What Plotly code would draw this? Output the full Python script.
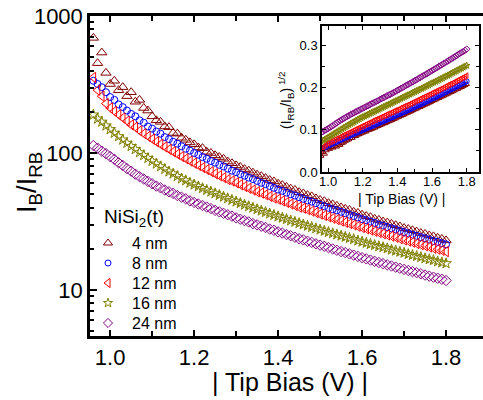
import plotly.graph_objects as go

# ---------------- data ----------------
# tip bias grid, 0.96 ... 1.80 V in 0.01 V steps
bias_V = [round(0.96 + 0.01 * i, 2) for i in range(85)]

thickness_labels = ["4 nm", "8 nm", "12 nm", "16 nm", "24 nm"]

# (I_RB / I_B)^(1/2) for each NiSi2 thickness (inset quantity)
sqrt_ratio_4nm = [
    0.0380, 0.0470, 0.0430, 0.0510, 0.0560, 0.0545, 0.0590, 0.0575, 0.0620, 0.0600,
    0.0650, 0.0640, 0.0685, 0.0700, 0.0735, 0.0760, 0.0770, 0.0800, 0.0805, 0.0845,
    0.0850, 0.0880, 0.0895, 0.0915, 0.0930, 0.0955, 0.0960, 0.0990, 0.1000, 0.1020,
    0.1035, 0.1050, 0.1075, 0.1090, 0.1110, 0.1125, 0.1145, 0.1160, 0.1180, 0.1200,
    0.1215, 0.1235, 0.1255, 0.1270, 0.1295, 0.1310, 0.1330, 0.1350, 0.1365, 0.1390,
    0.1405, 0.1425, 0.1440, 0.1465, 0.1485, 0.1500, 0.1525, 0.1540, 0.1560, 0.1580,
    0.1600, 0.1615, 0.1640, 0.1655, 0.1680, 0.1700, 0.1715, 0.1740, 0.1755, 0.1780,
    0.1795, 0.1815, 0.1835, 0.1855, 0.1880, 0.1895, 0.1915, 0.1935, 0.1960, 0.1975,
    0.2000, 0.2015, 0.2040, 0.2060, 0.2085]
sqrt_ratio_8nm = [
    0.0545, 0.0560, 0.0575, 0.0600, 0.0625, 0.0640, 0.0665, 0.0680, 0.0700, 0.0720,
    0.0735, 0.0760, 0.0775, 0.0800, 0.0815, 0.0835, 0.0850, 0.0875, 0.0890, 0.0910,
    0.0925, 0.0945, 0.0965, 0.0980, 0.1000, 0.1015, 0.1035, 0.1050, 0.1070, 0.1085,
    0.1105, 0.1120, 0.1140, 0.1160, 0.1175, 0.1195, 0.1210, 0.1230, 0.1245, 0.1265,
    0.1285, 0.1300, 0.1320, 0.1340, 0.1360, 0.1375, 0.1395, 0.1415, 0.1430, 0.1450,
    0.1470, 0.1490, 0.1505, 0.1525, 0.1545, 0.1565, 0.1585, 0.1605, 0.1620, 0.1640,
    0.1660, 0.1680, 0.1700, 0.1720, 0.1745, 0.1760, 0.1780, 0.1800, 0.1825, 0.1840,
    0.1865, 0.1885, 0.1900, 0.1925, 0.1945, 0.1965, 0.1985, 0.2005, 0.2030, 0.2050,
    0.2070, 0.2095, 0.2110, 0.2135, 0.2155]
sqrt_ratio_12nm = [
    0.0530, 0.0590, 0.0620, 0.0660, 0.0685, 0.0705, 0.0725, 0.0745, 0.0765, 0.0790,
    0.0805, 0.0830, 0.0850, 0.0870, 0.0890, 0.0910, 0.0930, 0.0950, 0.0970, 0.0990,
    0.1010, 0.1030, 0.1050, 0.1070, 0.1090, 0.1110, 0.1130, 0.1150, 0.1170, 0.1190,
    0.1210, 0.1230, 0.1250, 0.1265, 0.1285, 0.1305, 0.1325, 0.1345, 0.1365, 0.1385,
    0.1400, 0.1420, 0.1440, 0.1460, 0.1475, 0.1495, 0.1515, 0.1535, 0.1555, 0.1575,
    0.1590, 0.1610, 0.1630, 0.1650, 0.1670, 0.1690, 0.1710, 0.1730, 0.1750, 0.1770,
    0.1790, 0.1810, 0.1830, 0.1850, 0.1870, 0.1890, 0.1910, 0.1930, 0.1950, 0.1970,
    0.1990, 0.2010, 0.2030, 0.2055, 0.2075, 0.2095, 0.2115, 0.2140, 0.2160, 0.2180,
    0.2200, 0.2225, 0.2245, 0.2265, 0.2290]
sqrt_ratio_16nm = [
    0.0725, 0.0750, 0.0770, 0.0795, 0.0820, 0.0845, 0.0870, 0.0895, 0.0920, 0.0945,
    0.0970, 0.0995, 0.1020, 0.1045, 0.1070, 0.1095, 0.1120, 0.1145, 0.1170, 0.1190,
    0.1215, 0.1240, 0.1260, 0.1285, 0.1305, 0.1325, 0.1345, 0.1365, 0.1385, 0.1405,
    0.1425, 0.1445, 0.1465, 0.1485, 0.1505, 0.1525, 0.1545, 0.1565, 0.1585, 0.1605,
    0.1625, 0.1645, 0.1665, 0.1685, 0.1705, 0.1725, 0.1745, 0.1765, 0.1785, 0.1805,
    0.1825, 0.1845, 0.1865, 0.1885, 0.1905, 0.1925, 0.1945, 0.1965, 0.1985, 0.2005,
    0.2025, 0.2045, 0.2065, 0.2090, 0.2110, 0.2130, 0.2150, 0.2170, 0.2190, 0.2210,
    0.2230, 0.2255, 0.2275, 0.2295, 0.2315, 0.2340, 0.2360, 0.2380, 0.2400, 0.2425,
    0.2445, 0.2465, 0.2490, 0.2510, 0.2530]
sqrt_ratio_24nm = [
    0.0940, 0.0960, 0.0985, 0.1005, 0.1030, 0.1055, 0.1085, 0.1110, 0.1140, 0.1165,
    0.1195, 0.1220, 0.1245, 0.1270, 0.1295, 0.1320, 0.1340, 0.1365, 0.1385, 0.1405,
    0.1430, 0.1450, 0.1470, 0.1495, 0.1515, 0.1535, 0.1555, 0.1575, 0.1595, 0.1620,
    0.1640, 0.1660, 0.1680, 0.1700, 0.1725, 0.1745, 0.1765, 0.1785, 0.1810, 0.1830,
    0.1850, 0.1870, 0.1895, 0.1915, 0.1940, 0.1960, 0.1985, 0.2005, 0.2030, 0.2055,
    0.2075, 0.2100, 0.2120, 0.2145, 0.2170, 0.2190, 0.2215, 0.2240, 0.2265, 0.2290,
    0.2310, 0.2335, 0.2360, 0.2385, 0.2410, 0.2435, 0.2460, 0.2485, 0.2510, 0.2535,
    0.2560, 0.2585, 0.2610, 0.2635, 0.2660, 0.2685, 0.2710, 0.2735, 0.2760, 0.2790,
    0.2815, 0.2840, 0.2865, 0.2890, 0.2920]

series = [sqrt_ratio_4nm, sqrt_ratio_8nm, sqrt_ratio_12nm, sqrt_ratio_16nm, sqrt_ratio_24nm]

# ---------------- styling ----------------
colors = ["#800000", "#0000FF", "#FF0000", "#808000", "#800080"]
symbols = ["triangle-up-open", "circle-open", "triangle-left-open", "star-open", "diamond-open"]
main_sizes = [9, 7, 9, 8, 8]
FONT = "Liberation Sans, Arial, sans-serif"

W, H = 483, 400
ML, MR, MT, MB = 90, 0, 16, 64
PW, PH = W - ML - MR, H - MT - MB


def px2paper_x(px):
    return (px - ML) / PW


def px2paper_y(py):
    return (H - MB - py) / PH


fig = go.Figure()

for s_vals, lab, col, sym, sz in zip(series, thickness_labels, colors, symbols, main_sizes):
    ratio = [1.0 / (s * s) for s in s_vals]  # I_B / I_RB
    fig.add_trace(go.Scatter(
        x=bias_V, y=ratio, mode="markers", name=lab,
        marker=dict(symbol=sym, size=sz, color=col, line=dict(width=1, color=col)),
        xaxis="x", yaxis="y", showlegend=False))

for s_vals, lab, col, sym in zip(series, thickness_labels, colors, symbols):
    fig.add_trace(go.Scatter(
        x=bias_V, y=s_vals, mode="markers", name=lab,
        marker=dict(symbol=sym, size=5, color=col, line=dict(width=1, color=col)),
        xaxis="x2", yaxis="y2", showlegend=False))

# hand-built legend (overlay axis in pixel units)
leg_sym_x = 108
leg_text_x = 130
leg_rows_y = [243, 263, 283, 303, 323]
for lab, col, sym, sz, ly in zip(thickness_labels, colors, symbols, main_sizes, leg_rows_y):
    fig.add_trace(go.Scatter(
        x=[leg_sym_x], y=[ly], mode="markers", name=lab,
        marker=dict(symbol=sym, size=sz - 1, color=col, line=dict(width=1, color=col)),
        xaxis="x3", yaxis="y3", showlegend=False, hoverinfo="skip"))

axis_common = dict(showgrid=False, zeroline=False, showline=True, linecolor="black",
                   ticks="inside", tickcolor="black")

fig.update_layout(
    width=W, height=H,
    margin=dict(l=ML, r=MR, t=MT, b=MB, pad=0),
    paper_bgcolor="white", plot_bgcolor="white",
    font=dict(family=FONT, color="black"),
    showlegend=False,
    xaxis=dict(axis_common, domain=[0, 1], range=[0.952, 1.888], linewidth=2.5,
               mirror="ticks", tickwidth=2, ticklen=6, dtick=0.2, tick0=1.0,
               tickformat=".1f", tickfont=dict(size=22),
               minor=dict(ticks="inside", dtick=0.1, tick0=1.0, ticklen=5, tickwidth=2,
                          tickcolor="black", showgrid=False)),
    yaxis=dict(axis_common, type="log", domain=[0, 1], range=[0.664, 3.0], linewidth=2.5,
               mirror=False, tickwidth=2, ticklen=7, dtick=1, tickfont=dict(size=22),
               minor=dict(ticks="inside", ticklen=4, tickwidth=1.5, tickcolor="black",
                          showgrid=False)),
    xaxis2=dict(axis_common, anchor="y2", domain=[px2paper_x(322), px2paper_x(479)],
                range=[0.965, 1.871], linewidth=1.5, mirror="ticks", tickwidth=1.2,
                ticklen=4, dtick=0.2, tick0=1.0, tickformat=".1f", tickfont=dict(size=13),
                ticklabelstandoff=-3,
                minor=dict(ticks="inside", dtick=0.1, tick0=1.0, ticklen=3, tickwidth=1,
                           tickcolor="black", showgrid=False)),
    yaxis2=dict(axis_common, anchor="x2", domain=[px2paper_y(172), px2paper_y(26)],
                range=[0, 0.347], linewidth=1.5, mirror="ticks", tickwidth=1.2,
                ticklen=4, dtick=0.1, tickformat=".1f", tickfont=dict(size=13),
                minor=dict(ticks="inside", dtick=0.05, ticklen=3, tickwidth=1,
                           tickcolor="black", showgrid=False)),
    xaxis3=dict(domain=[0, 1], range=[ML, W - MR], visible=False, fixedrange=True,
                anchor="y3", overlaying="x"),
    yaxis3=dict(domain=[0, 1], range=[H - MB, MT], visible=False, fixedrange=True,
                anchor="x3", overlaying="y"),
)

annotations = [
    dict(text="I<sub>B</sub>/I<sub>RB</sub>", x=px2paper_x(29), y=px2paper_y(183),
         xref="paper", yref="paper", textangle=-90, showarrow=False,
         font=dict(size=27), xanchor="center", yanchor="middle"),
    dict(text="| Tip Bias (V) |", x=px2paper_x(290), y=px2paper_y(382),
         xref="paper", yref="paper", showarrow=False, font=dict(size=25),
         xanchor="center", yanchor="middle"),
    dict(text="(I<sub>RB</sub>/I<sub>B</sub>)<sup> 1/2</sup>", x=px2paper_x(286),
         y=px2paper_y(100), xref="paper", yref="paper", textangle=-90, showarrow=False,
         font=dict(size=14), xanchor="center", yanchor="middle"),
    dict(text="| Tip Bias (V) |", x=px2paper_x(401), y=px2paper_y(199),
         xref="paper", yref="paper", showarrow=False, font=dict(size=14),
         xanchor="center", yanchor="middle"),
    dict(text="NiSi<sub>2</sub>(t)", x=px2paper_x(102), y=px2paper_y(218),
         xref="paper", yref="paper", showarrow=False, font=dict(size=19),
         xanchor="left", yanchor="middle"),
]
for lab, ly in zip(thickness_labels, leg_rows_y):
    annotations.append(dict(text=lab, x=px2paper_x(leg_text_x), y=px2paper_y(ly),
                            xref="paper", yref="paper", showarrow=False,
                            font=dict(size=16), xanchor="left", yanchor="middle"))
fig.update_layout(annotations=annotations)

fig.write_html("out.html", config={"displayModeBar": False},
               post_script="document.body.style.margin='0px'; document.body.style.overflow='hidden';")
